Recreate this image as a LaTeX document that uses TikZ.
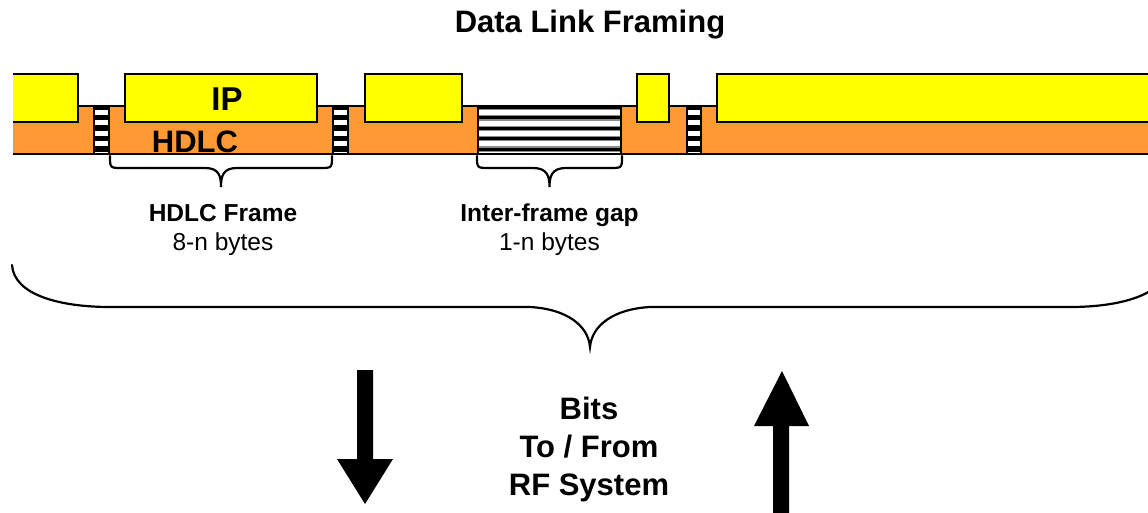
\documentclass[tikz,border=0pt]{standalone}
\usepackage{fontspec}
\setmainfont{Liberation Sans}
\definecolor{ipyellow}{HTML}{FFFF00}
\definecolor{hdlcorange}{HTML}{FF9933}
\begin{document}
\begin{tikzpicture}[x=1pt,y=-1pt,line join=miter,
  edge/.style={draw=black,line width=2.6pt},
  ipbox/.style={edge,fill=ipyellow},
  bracepath/.style={draw=black,line width=2.2pt,line cap=round},
  lbl/.style={inner sep=0pt,anchor=base,font=\fontsize{24.5}{29}\selectfont},
  lblb/.style={lbl,font=\fontsize{24.5}{29}\selectfont\bfseries},
  big/.style={inner sep=0pt,anchor=base,font=\fontsize{31}{38}\selectfont\bfseries}]
\useasboundingbox (0,0) rectangle (1148,513);
\clip (0,0) rectangle (1148,513);
% title
\node[big] (title) at (590,33) {Data Link Framing};
% orange HDLC band
\fill[hdlcorange] (13,106) rectangle (1150,154);
% flag ladders
\foreach \xa/\xb in {93/110,332/349,686/702}{
  \fill[black] (\xa,106) rectangle (\xb,154);
  \begin{scope}
    \clip (\xa,106) rectangle (\xb,153);
    \foreach \k in {0,...,4}{
      \fill[white] ({\xa+2.3},{110+10.4*\k}) rectangle ({\xb-2.3},{115+10.4*\k});
    }
  \end{scope}
}
% inter-frame gap
\fill[black] (477,106) rectangle (622,154);
\begin{scope}
  \clip (479,106) rectangle (620,153);
  \foreach \k in {0,...,4}{
    \fill[black!45] (479,{109+10.4*\k}) rectangle (620,{116.5+10.4*\k});
    \fill[white] (479,{110.3+10.4*\k}) rectangle (620,{115.2+10.4*\k});
  }
\end{scope}
% band edges
\draw[edge] (13,106) -- (1150,106);
\draw[edge] (13,154) -- (1150,154);
% yellow IP boxes
\fill[ipyellow] (13,74) rectangle (78,122);
\draw[edge] (13,74) -- (78,74) -- (78,122) -- (13,122);
\draw[ipbox] (125,74) rectangle (317,122);
\draw[ipbox] (365,74) rectangle (462,122);
\draw[ipbox] (637,74) rectangle (669,122);
\fill[ipyellow] (717,74) rectangle (1152,122);
\draw[edge] (1152,74) -- (717,74) -- (717,122) -- (1152,122);
\node[big,font=\fontsize{33}{38}\selectfont\bfseries] (ip) at (227,111) {IP};
\node[big] (hdlc) at (195,153) {HDLC};
% small braces
\coordinate (tipA) at (221,187);
\coordinate (tipB) at (549.5,187);
\draw[bracepath] (110,156) .. controls (110,168) .. (122,168) -- (205,168)
  .. controls (219,168) and (221,176) .. (tipA)
  .. controls (221,176) and (223,168) .. (237,168) -- (320,168)
  .. controls (332,168) .. (332,156);
\draw[bracepath] (477,156) .. controls (477,168) .. (489,168) -- (533,168)
  .. controls (547,168) and (549.5,176) .. (tipB)
  .. controls (549.5,176) and (552,168) .. (566,168) -- (610,168)
  .. controls (622,168) .. (622,156);
\node[lblb] (hf) at (223,222) {HDLC Frame};
\node[lbl] (hfb) at (223,250) {8-n bytes};
\node[lblb] (ig) at (549.5,222) {Inter-frame gap};
\node[lbl] (igb) at (549.5,250) {1-n bytes};
% big brace
\coordinate (tipC) at (590,347);
\draw[bracepath] (12,265) .. controls (14,295) and (60,307) .. (110,307) -- (530,307)
  .. controls (566,309) and (588,325) .. (tipC)
  .. controls (592,325) and (614,309) .. (650,307) -- (1070,307)
  .. controls (1120,307) and (1166,295) .. (1168,265);
% arrows
\fill[black] (357,370) -- (373,370) -- (373,459) -- (393,459) -- (365,504)
  -- (337,459) -- (357,459) -- cycle;
\fill[black] (782,371) -- (809,426) -- (789,426) -- (789,520) -- (773,520)
  -- (773,426) -- (754,426) -- cycle;
\node[big] (bits) at (589,419) {Bits};
\node[big] (tofrom) at (589,457) {To / From};
\node[big] (rf) at (589,495) {RF System};
\end{tikzpicture}
\end{document}
